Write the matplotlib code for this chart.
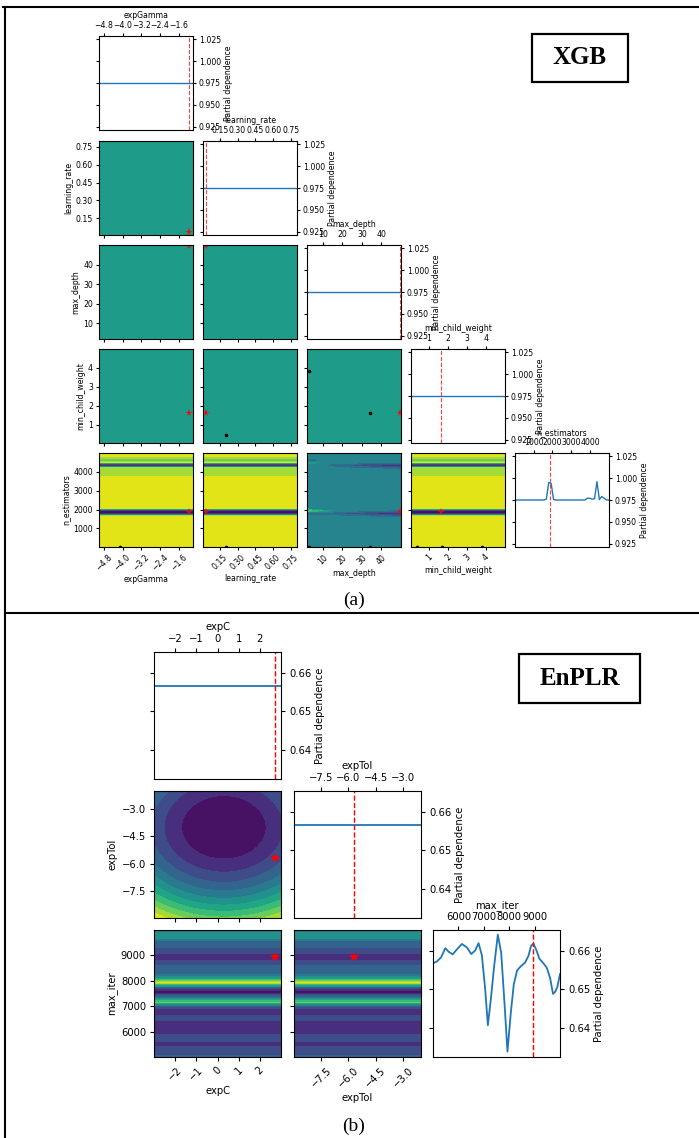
import numpy as np
import matplotlib
matplotlib.use("Agg")
import matplotlib.pyplot as plt
from matplotlib.patches import Rectangle
from matplotlib.lines import Line2D

# ---------------- data: (a) XGB ----------------
xgb_names = ["expGamma", "learning_rate", "max_depth", "min_child_weight", "n_estimators"]
xgb_bounds = [(-5.0, -1.0), (0.01, 0.80), (2.0, 50.0), (0.05, 5.0), (10.0, 5000.0)]
xgb_ticks = [[-4.8, -4.0, -3.2, -2.4, -1.6],
             [0.15, 0.30, 0.45, 0.60, 0.75],
             [10, 20, 30, 40],
             [1, 2, 3, 4],
             [1000, 2000, 3000, 4000]]
xgb_best = [-1.18, 0.035, 49.5, 1.62, 1850]
xgb_pd_ticks = [0.925, 0.950, 0.975, 1.000, 1.025]
xgb_pd_lim = (0.9213, 1.0287)
xgb_flat_pd = 0.975
# partial dependence of n_estimators on a 40-point grid (10 .. 5000)
xgb_nest_pd = [0.975, 0.975, 0.975, 0.975, 0.975, 0.975, 0.975, 0.975, 0.975, 0.975,
               0.975, 0.975, 0.975, 0.976, 0.995, 0.994, 0.9755, 0.975, 0.975, 0.975,
               0.975, 0.975, 0.975, 0.975, 0.975, 0.975, 0.975, 0.975, 0.975, 0.975,
               0.977, 0.977, 0.976, 0.9765, 0.996, 0.9755, 0.979, 0.977, 0.975, 0.975]
xgb_teal_level = 0.55
xgb_depth_cols = [2, 15, 30, 50]
xgb_depth_base = 0.45
xgb_depth_streak_n = [1674, 1802, 1930, 4234, 4362, 4490, 4618]
xgb_depth_streak_val = [[0.42, 0.40, 0.35, 0.25],
                        [0.25, 0.30, 0.20, 0.05],
                        [0.75, 0.50, 0.40, 0.35],
                        [0.45, 0.42, 0.35, 0.25],
                        [0.45, 0.35, 0.20, 0.05],
                        [0.55, 0.45, 0.42, 0.40],
                        [0.25, 0.40, 0.45, 0.45]]
xgb_samples = {(3, 1): [(0.20, 0.45)],
               (3, 2): [(3, 3.85), (34, 1.65)],
               (4, 0): [(-4.1, 10)],
               (4, 1): [(0.20, 10)],
               (4, 2): [(3, 10), (34, 10)],
               (4, 3): [(0.37, 10), (1.67, 10), (3.8, 10)]}

# ---------------- data: (b) EnPLR ----------------
en_names = ["expC", "expTol", "max_iter"]
en_bounds = [(-3.0, 3.0), (-9.0, -2.0), (5000.0, 10000.0)]
en_ticks = [[-2, -1, 0, 1, 2], [-7.5, -6.0, -4.5, -3.0], [6000, 7000, 8000, 9000]]
en_best = [2.72, -5.7, 8920]
en_pd_ticks = [0.64, 0.65, 0.66]
en_pd_lim = (0.6325, 0.6653)
en_flat_pd = 0.6565
maxiter_x = [5000, 5157, 5314, 5484, 5615, 5772, 5942, 6139, 6335, 6505,
             6662, 6793, 6924, 7055, 7160, 7277, 7408, 7552, 7683, 7814,
             7932, 8063, 8181, 8312, 8469, 8626, 8757, 8861, 8953, 9058,
             9188, 9346, 9476, 9607, 9725, 9817, 9895, 10000]
maxiter_pd = [0.6567, 0.6572, 0.6582, 0.6606, 0.6597, 0.6590, 0.6603, 0.6617, 0.6608, 0.6591,
              0.6600, 0.6619, 0.6588, 0.6500, 0.6407, 0.6474, 0.6560, 0.6641, 0.6595, 0.6465,
              0.6339, 0.6439, 0.6513, 0.6549, 0.6560, 0.6569, 0.6586, 0.6612, 0.6618, 0.6603,
              0.6579, 0.6567, 0.6556, 0.6530, 0.6488, 0.6494, 0.6506, 0.6539]
en_bowl_center = (0.3, -4.0)
en_bowl_scale = (2.0, 1.75)

# ---------------- figure ----------------
W, H = 699, 1138
fig = plt.figure(figsize=(W / 100, H / 100), dpi=100)
plt.rcParams["font.family"] = ["DejaVu Sans"]


def px_axes(x, y, w, h):
    return fig.add_axes([x / W, 1 - (y + h) / H, w / W, h / H])


def style_diag(ax, name, ticks, pd_ticks, pd_lim, fs, tl, pad):
    ax.set_xticks(ticks)
    ax.set_yticks(pd_ticks)
    ax.set_ylim(*pd_lim)
    ax.xaxis.tick_top()
    ax.xaxis.set_label_position("top")
    ax.set_xlabel(name, fontsize=fs, labelpad=pad)
    ax.yaxis.tick_right()
    ax.yaxis.set_label_position("right")
    ax.set_ylabel("Partial dependence", fontsize=fs, labelpad=pad)
    ax.tick_params(axis="y", left=True, right=True, labelleft=False, labelright=True,
                   labelsize=fs, length=tl, pad=pad)
    ax.tick_params(axis="x", top=True, bottom=False, labeltop=True, labelbottom=False,
                   labelsize=fs, length=tl, pad=pad)


def style_2d(ax, i, j, n, names, ticks, fs, tl, pad):
    ax.set_xticks(ticks[j])
    ax.set_yticks(ticks[i])
    ax.tick_params(labelsize=fs, length=tl, pad=pad)
    if j == 0:
        ax.set_ylabel(names[i], fontsize=fs, labelpad=pad)
    else:
        ax.tick_params(labelleft=False)
    if i == n - 1:
        ax.set_xlabel(names[j], fontsize=fs, labelpad=pad)
        for lab in ax.get_xticklabels():
            lab.set_rotation(45)
    else:
        ax.tick_params(labelbottom=False)


# ---------- (a) XGB grid ----------
xgb_col_x = [99, 203, 307, 411, 515]
xgb_row_y = [36, 141, 245, 349, 453]
xs = 94
fsA, tlA, padA = 5.6, 2.3, 2.0
nA = len(xgb_names)
grids = [np.linspace(lo, hi, 40) for lo, hi in xgb_bounds]
nest_grid = grids[4]
fixed_levels = np.linspace(0, 1, 11)

for i in range(nA):
    for j in range(i + 1):
        ax = px_axes(xgb_col_x[j], xgb_row_y[i], xs, xs)
        if i == j:
            if i == 4:
                ax.plot(nest_grid, xgb_nest_pd, color="#1f77b4", lw=1.0)
            else:
                ax.plot(grids[i], np.full(len(grids[i]), xgb_flat_pd), color="#1f77b4", lw=1.0)
            ax.axvline(xgb_best[i], color="red", ls="--", lw=0.8, alpha=0.75)
            ax.set_xlim(*xgb_bounds[i])
            style_diag(ax, xgb_names[i], xgb_ticks[i], xgb_pd_ticks, xgb_pd_lim, fsA, tlA, padA)
        else:
            gx = grids[j]
            if i == 4 and j != 2:
                Z = np.tile(-np.asarray(xgb_nest_pd)[:, None], (1, len(gx)))
                ax.contourf(gx, nest_grid, Z, levels=10, cmap="viridis")
            elif i == 4 and j == 2:
                Z = np.full((len(nest_grid), len(xgb_depth_cols)), xgb_depth_base)
                for nval, vals in zip(xgb_depth_streak_n, xgb_depth_streak_val):
                    k = int(np.argmin(np.abs(nest_grid - nval)))
                    Z[k, :] = vals
                ax.contourf(xgb_depth_cols, nest_grid, Z, levels=fixed_levels, cmap="viridis")
            else:
                gy = grids[i]
                Z = np.full((len(gy), len(gx)), xgb_teal_level)
                ax.contourf(gx, gy, Z, levels=fixed_levels, cmap="viridis")
            for (px, py) in xgb_samples.get((i, j), []):
                ax.plot(px, py, "o", color="black", ms=1.6)
            ax.plot(xgb_best[j], xgb_best[i], "*", color="red", ms=5.5, mew=0)
            ax.set_xlim(*xgb_bounds[j])
            ax.set_ylim(*xgb_bounds[i])
            style_2d(ax, i, j, nA, xgb_names, xgb_ticks, fsA, tlA, padA)

# ---------- (b) EnPLR grid ----------
en_col_x = [154, 294, 433]
en_row_y = [652, 791, 930]
es = 127
fsB, tlB, padB = 7.2, 3.0, 2.8
nB = len(en_names)
egrids = [np.linspace(lo, hi, 40) for lo, hi in en_bounds]

for i in range(nB):
    for j in range(i + 1):
        ax = px_axes(en_col_x[j], en_row_y[i], es, es)
        if i == j:
            if i == 2:
                ax.plot(maxiter_x, maxiter_pd, color="#1f77b4", lw=1.3)
            else:
                ax.plot(egrids[i], np.full(len(egrids[i]), en_flat_pd), color="#1f77b4", lw=1.3)
            ax.axvline(en_best[i], color="red", ls="--", lw=1.0)
            ax.set_xlim(*en_bounds[i])
            style_diag(ax, en_names[i], en_ticks[i], en_pd_ticks, en_pd_lim, fsB, tlB, padB)
        else:
            gx = egrids[j]
            if i == 2:
                Z = np.tile(-np.asarray(maxiter_pd)[:, None], (1, len(gx)))
                ax.contourf(gx, maxiter_x, Z, levels=10, cmap="viridis")
            else:
                gy = egrids[i]
                CX, CY = np.meshgrid(gx, gy)
                Z = ((CX - en_bowl_center[0]) / en_bowl_scale[0]) ** 2 + \
                    ((CY - en_bowl_center[1]) / en_bowl_scale[1]) ** 2
                ax.contourf(gx, gy, Z, levels=10, cmap="viridis")
            ax.plot(en_best[j], en_best[i], "*", color="red", ms=7.5, mew=0)
            ax.set_xlim(*en_bounds[j])
            ax.set_ylim(*en_bounds[i])
            style_2d(ax, i, j, nB, en_names, en_ticks, fsB, tlB, padB)

# ---------- table frame, captions, model labels ----------
lw_frame = 1.5
def fline(x0, y0, x1, y1, lw=lw_frame):
    fig.add_artist(Line2D([x0 / W, x1 / W], [1 - y0 / H, 1 - y1 / H],
                          transform=fig.transFigure, color="black", lw=lw))

fline(3, 7, 699, 7)
fline(5, 7, 5, 1138)
fline(5, 613, 699, 613)

fig.text(354 / W, 1 - 600 / H, "(a)", ha="center", va="center",
         fontsize=14, family="Liberation Serif")
fig.text(354 / W, 1 - 1126 / H, "(b)", ha="center", va="center",
         fontsize=14, family="Liberation Serif")

for (x0, y0, x1, y1, label) in [(532, 34, 628, 82, "XGB"), (519, 654, 640, 703, "EnPLR")]:
    fig.add_artist(Rectangle((x0 / W, 1 - y1 / H), (x1 - x0) / W, (y1 - y0) / H,
                             transform=fig.transFigure, fill=False, ec="black", lw=1.6))
    fig.text((x0 + x1) / 2 / W, 1 - (y0 + y1) / 2 / H, label, ha="center", va="center",
             fontsize=18, fontweight="bold", family="Liberation Serif")

fig.savefig("out.png", dpi=100)
